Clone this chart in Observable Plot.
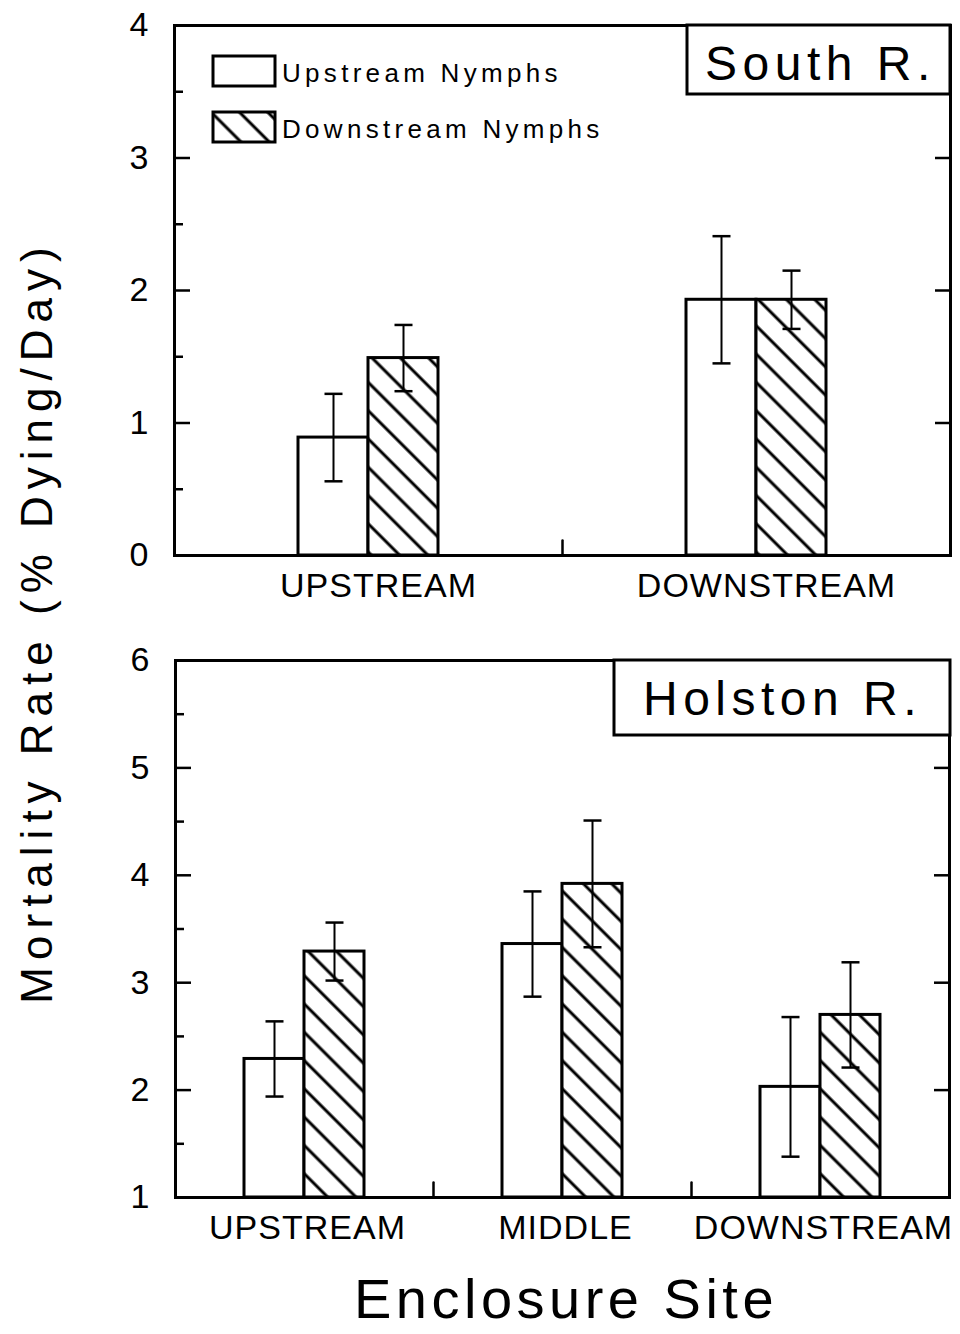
<!DOCTYPE html>
<html>
<head>
<meta charset="utf-8">
<script src="https://cdn.jsdelivr.net/npm/d3@7"></script>
<script src="https://cdn.jsdelivr.net/npm/@observablehq/plot@0.6"></script>
<style>
  body { margin: 0; background: #fff; }
  #chart { position: relative; width: 960px; height: 1334px; background: #fff; font-family: "Liberation Sans", Arial, sans-serif; }
  #chart > svg { position: absolute; left: 0; }
  [aria-label="fx-axis tick label"] text { letter-spacing: 1px; }
</style>
</head>
<body>
<div id="chart">
  <svg width="0" height="0" style="position:absolute">
    <defs>
      <pattern id="hatch" patternUnits="userSpaceOnUse" width="20" height="20" patternTransform="rotate(45)">
        <rect width="20" height="20" fill="white"></rect>
        <line x1="0" y1="10" x2="20" y2="10" stroke="black" stroke-width="3"></line>
      </pattern>
    </defs>
  </svg>
</div>
<script>
// Nymph source groups (one bar each per enclosure site)
const nymphGroups = ["Upstream Nymphs", "Downstream Nymphs"];

// South River: mean mortality rate and standard error, by enclosure site
const southSites = ["UPSTREAM", "DOWNSTREAM"];
const southUpstreamMean = [0.89, 1.93];
const southUpstreamSE = [0.33, 0.48];
const southDownstreamMean = [1.49, 1.93];
const southDownstreamSE = [0.25, 0.22];
const southTicks = [0, 1, 2, 3, 4];
const southMinorTicks = [0.5, 1.5, 2.5, 3.5];

// Holston River
const holstonSites = ["UPSTREAM", "MIDDLE", "DOWNSTREAM"];
const holstonUpstreamMean = [2.29, 3.36, 2.03];
const holstonUpstreamSE = [0.35, 0.49, 0.65];
const holstonDownstreamMean = [3.29, 3.92, 2.70];
const holstonDownstreamSE = [0.27, 0.59, 0.49];
const holstonTicks = [1, 2, 3, 4, 5, 6];
const holstonMinorTicks = [1.5, 2.5, 3.5, 4.5, 5.5];

const FONT = '"Liberation Sans", Arial, sans-serif';

function rows(sites, upMean, upSE, downMean, downSE) {
  return sites.flatMap((site, i) => [
    {site, group: nymphGroups[0], mean: upMean[i], lo: upMean[i] - upSE[i], hi: upMean[i] + upSE[i]},
    {site, group: nymphGroups[1], mean: downMean[i], lo: downMean[i] - downSE[i], hi: downMean[i] + downSE[i]}
  ]);
}

// error-bar cap: a short horizontal stroke
const capSymbol = {
  draw(context, size) {
    const w = Math.sqrt(size / Math.PI);
    context.moveTo(-w, 0);
    context.lineTo(w, 0);
  }
};
// straight tick used for the site boundary marks on the baseline
const tickShape = {
  draw(context, length) {
    context.moveTo(0, 0);
    context.lineTo(0, -length);
  }
};

function panel({data, sites, ticks, minor, height, marginTop, marginBottom, paddingOuter, labelShift}) {
  const [y0, y1] = d3.extent(ticks);
  const boundaries = sites.slice(1).map((site) => ({site}));
  return Plot.plot({
    width: 960,
    height,
    marginLeft: 174,
    marginRight: 10,
    marginTop,
    marginBottom,
    style: {fontFamily: FONT, background: "transparent", color: "black", overflow: "visible"},
    fx: {domain: sites, padding: 0, label: null},
    x: {domain: nymphGroups, paddingInner: 0, paddingOuter, axis: null},
    y: {domain: [y0, y1], axis: null, label: null},
    color: {type: "ordinal", domain: nymphGroups, range: ["white", "url(#hatch)"]},
    marks: [
      Plot.barY(data, {fx: "site", x: "group", y1: y0, y2: "mean", fill: "group", stroke: "black", strokeWidth: 3}),
      Plot.ruleX(data, {fx: "site", x: "group", y1: "lo", y2: "hi", stroke: "black", strokeWidth: 2}),
      Plot.dot(data, {fx: "site", x: "group", y: "lo", symbol: capSymbol, r: 9, fill: "none", stroke: "black", strokeWidth: 2.5}),
      Plot.dot(data, {fx: "site", x: "group", y: "hi", symbol: capSymbol, r: 9, fill: "none", stroke: "black", strokeWidth: 2.5}),
      Plot.vector(boundaries, {fx: "site", frameAnchor: "bottom-left", rotate: 0, length: 15, anchor: "start", shape: tickShape, stroke: "black", fill: "none", strokeWidth: 2.5}),
      // inward tick marks, major and minor on the left, major on the right
      Plot.axisY(ticks, {anchor: "left", tickSize: -16, fill: "none", label: null, strokeWidth: 2.5}),
      Plot.axisY(minor, {anchor: "left", tickSize: -9, fill: "none", label: null, strokeWidth: 2.5}),
      Plot.axisY(ticks.slice(1, -1), {anchor: "right", tickSize: -16, fill: "none", label: null, strokeWidth: 2.5}),
      Plot.axisY(ticks, {anchor: "left", tickSize: 0, tickPadding: 26, fontSize: 34, label: null, fill: "black", tickFormat: d3.format("d")}),
      Plot.axisFx({anchor: "bottom", tickSize: 0, tickPadding: 17, fontSize: 34, label: null, fill: "black", dx: labelShift}),
      // plot frame
      Plot.frame({anchor: "top", stroke: "black", strokeWidth: 3}),
      Plot.frame({anchor: "bottom", stroke: "black", strokeWidth: 3}),
      Plot.frame({anchor: "left", facetAnchor: "left", stroke: "black", strokeWidth: 3}),
      Plot.frame({anchor: "right", facetAnchor: "right", stroke: "black", strokeWidth: 3})
    ]
  });
}

const chart = document.getElementById("chart");

const southPanel = panel({
  data: rows(southSites, southUpstreamMean, southUpstreamSE, southDownstreamMean, southDownstreamSE),
  sites: southSites, ticks: southTicks, minor: southMinorTicks,
  height: 612, marginTop: 25, marginBottom: 57, paddingOuter: 1.77, labelShift: 10
});
southPanel.style.top = "0px";
chart.appendChild(southPanel);

const holstonPanel = panel({
  data: rows(holstonSites, holstonUpstreamMean, holstonUpstreamSE, holstonDownstreamMean, holstonDownstreamSE),
  sites: holstonSites, ticks: holstonTicks, minor: holstonMinorTicks,
  height: 624, marginTop: 30, marginBottom: 57, paddingOuter: 1.12, labelShift: 3
});
holstonPanel.style.top = "630px";
chart.appendChild(holstonPanel);

// Overlay: legend, river labels, shared axis titles
const overlay = d3.create("svg")
  .attr("width", 960).attr("height", 1334)
  .style("top", "0px").style("pointer-events", "none")
  .attr("font-family", FONT).attr("fill", "black");

const legend = overlay.append("g");
const legendFills = ["white", "url(#hatch)"];
nymphGroups.forEach((name, i) => {
  const y = 56 + i * 56;
  legend.append("rect").attr("x", 213).attr("y", y).attr("width", 62).attr("height", 30)
    .attr("fill", legendFills[i]).attr("stroke", "black").attr("stroke-width", 3);
  legend.append("text").attr("x", 282).attr("y", y + 26).attr("font-size", 26)
    .attr("letter-spacing", 4.3).text(name);
});

function riverLabel(name, x, y, w, h, tx, ty) {
  overlay.append("rect").attr("x", x).attr("y", y).attr("width", w).attr("height", h)
    .attr("fill", "white").attr("stroke", "black").attr("stroke-width", 3);
  overlay.append("text").attr("x", tx).attr("y", ty).attr("font-size", 48)
    .attr("letter-spacing", 5.5).text(name);
}
riverLabel("South R.", 687, 25, 263, 69, 705, 80);
riverLabel("Holston R.", 614, 660, 336, 75, 643, 715);

overlay.append("text")
  .attr("transform", "translate(52,622) rotate(-90)")
  .attr("text-anchor", "middle").attr("font-size", 44).attr("letter-spacing", 7)
  .text("Mortality Rate (% Dying/Day)");

overlay.append("text")
  .attr("x", 566).attr("y", 1318)
  .attr("text-anchor", "middle").attr("font-size", 56).attr("letter-spacing", 4.5)
  .text("Enclosure Site");

chart.appendChild(overlay.node());
</script>
</body>
</html>
